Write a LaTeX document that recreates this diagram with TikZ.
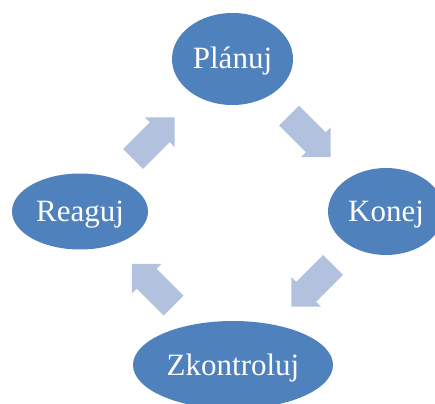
\documentclass[tikz,border=0pt]{standalone}
\usepackage{fontspec}
\setmainfont{Liberation Serif}
\usetikzlibrary{shapes.geometric}
\definecolor{ovalblue}{HTML}{4F81BD}
\definecolor{arrowblue}{HTML}{B2C1DD}
\tikzset{
  oval/.style={ellipse, fill=ovalblue, draw=none, inner sep=0pt, text=white,
    font=\fontsize{31}{31}\selectfont, text height=20pt, text depth=0pt},
  blockarrow/.style={fill=arrowblue, draw=none}
}
\newcommand{\cyclearrow}{(0,14) -- (38,14) -- (38,21) -- (59,0) -- (38,-21) -- (38,-14) -- (0,-14) -- cycle}
\begin{document}
\begin{tikzpicture}[x=1pt, y=1pt, yscale=-1]
\useasboundingbox (0,0) rectangle (435,403);
\node[oval, minimum width=121pt, minimum height=92pt] (planuj) at (232.5,59) {Plánuj};
\node[oval, minimum width=116pt, minimum height=87pt] (konej) at (386,211.5) {Konej};
\node[oval, minimum width=136pt, minimum height=76pt] (reaguj) at (80,211.5) {Reaguj};
\node[oval, minimum width=200pt, minimum height=88pt] (zkontroluj) at (233,365) {Zkontroluj};
\fill[blockarrow, shift={(133,159)}, rotate=-45] \cyclearrow;
\fill[blockarrow, shift={(289,115.5)}, rotate=45] \cyclearrow;
\fill[blockarrow, shift={(333,265)}, rotate=135] \cyclearrow;
\fill[blockarrow, shift={(173.5,305.5)}, rotate=-135] \cyclearrow;
\end{tikzpicture}
\end{document}
